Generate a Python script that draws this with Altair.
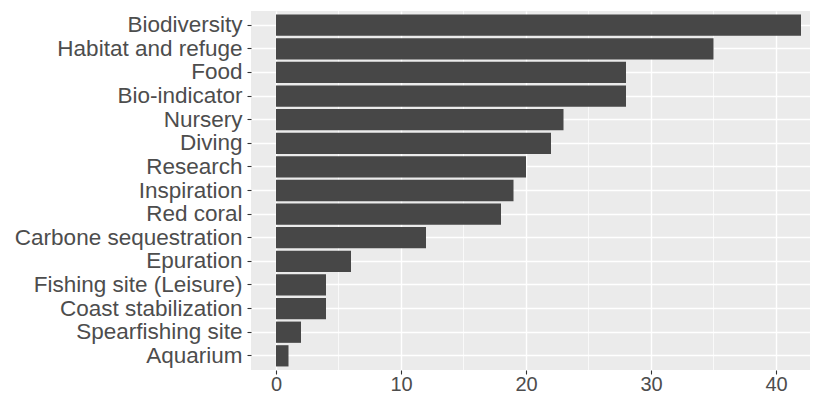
import altair as alt
import pandas as pd

categories = ["Biodiversity", "Habitat and refuge", "Food", "Bio-indicator", "Nursery",
              "Diving", "Research", "Inspiration", "Red coral", "Carbone sequestration",
              "Epuration", "Fishing site (Leisure)", "Coast stabilization",
              "Spearfishing site", "Aquarium"]
values = [42, 35, 28, 28, 23, 22, 20, 19, 18, 12, 6, 4, 4, 2, 1]
major_ticks = [0, 10, 20, 30, 40]
minor_ticks = [5, 15, 25, 35]

df = pd.DataFrame({"category": categories, "value": values})
minor_df = pd.DataFrame({"m": minor_ticks})

xscale = alt.Scale(domain=[-2.0, 42.72], nice=False, zero=False)

minor = alt.Chart(minor_df).mark_rule(color="white", strokeWidth=0.7).encode(
    x=alt.X("m:Q", scale=xscale)
)

bars = alt.Chart(df).mark_bar(color="#474747").encode(
    y=alt.Y("category:N", sort=categories, title=None,
            scale=alt.Scale(paddingInner=0.1, paddingOuter=0.15),
            axis=alt.Axis(bandPosition=0.5, grid=True, gridColor="white", gridWidth=1.4,
                          domain=False, ticks=True, tickSize=4, tickColor="#333333",
                          tickWidth=1.1, labelFontSize=22.5, labelColor="#4d4d4d",
                          labelFont="Liberation Sans", labelPadding=5, labelLimit=0)),
    x=alt.X("value:Q", scale=xscale, title=None,
            axis=alt.Axis(values=major_ticks, grid=True, gridColor="white", gridWidth=1.4,
                          domain=False, ticks=True, tickSize=4, tickColor="#333333",
                          tickWidth=1.1, labelFontSize=20, labelColor="#4d4d4d",
                          labelFont="Liberation Sans", labelPadding=0))
)

chart = alt.layer(minor, bars).properties(
    width=559, height=359,
    autosize=alt.AutoSizeParams(type="none"),
    padding={"left": 243, "top": 3, "right": 0, "bottom": 25},
).configure_view(fill="#EBEBEB", stroke=None)

chart.save("out.html", embed_options={"renderer": "svg", "actions": False})
